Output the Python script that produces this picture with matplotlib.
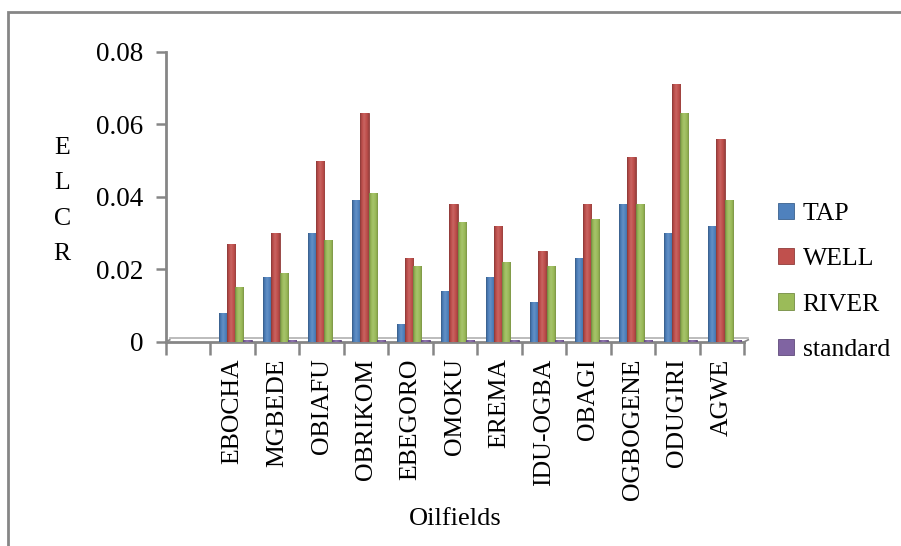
import numpy as np
import matplotlib.pyplot as plt
import matplotlib.transforms as mtransforms
from matplotlib.patches import Rectangle
from matplotlib.colors import to_rgb

plt.rcParams['font.family'] = ['Liberation Serif', 'DejaVu Serif']

# Excess lifetime cancer risk per oilfield and water source
oilfields = ['', 'EBOCHA', 'MGBEDE', 'OBIAFU', 'OBRIKOM', 'EBEGORO', 'OMOKU',
             'EREMA', 'IDU-OGBA', 'OBAGI', 'OGBOGENE', 'ODUGIRI', 'AGWE']
tap = [0.008, 0.018, 0.030, 0.039, 0.005, 0.014, 0.018, 0.011, 0.023, 0.038, 0.030, 0.032]
well = [0.027, 0.030, 0.050, 0.063, 0.023, 0.038, 0.032, 0.025, 0.038, 0.051, 0.071, 0.056]
river = [0.015, 0.019, 0.028, 0.041, 0.021, 0.033, 0.022, 0.021, 0.034, 0.038, 0.063, 0.039]
standard = [0.0004] * 12

series = [('TAP', tap, '#4F81BD'),
          ('WELL', well, '#C0504D'),
          ('RIVER', river, '#9BBB59'),
          ('standard', standard, '#8064A2')]

axis_grey = '#868686'


def shade(c, f):
    r = np.array(to_rgb(c))
    if f < 1:
        return tuple(r * f)
    return tuple(r + (1 - r) * (f - 1))


def cylinder(ax, bars, color):
    # horizontal gradient so the bars read like cylinders
    s = np.linspace(0, 1, 32)
    prof = np.interp(s, [0, 0.15, 0.45, 0.8, 1], [0.7, 0.92, 1.12, 0.97, 0.8])
    img = np.array([[shade(color, p) for p in prof]])
    for b in bars:
        x, y = b.get_x(), b.get_y()
        w, h = b.get_width(), b.get_height()
        im = ax.imshow(img, extent=(x, x + w, y, y + h), aspect='auto',
                       interpolation='bilinear', zorder=3)
        im.set_clip_path(b)


fig = plt.figure(figsize=(9.01, 5.46), dpi=100)
ax = fig.add_axes([0.184, 0.374, 0.642, 0.531])

x = np.arange(1, len(oilfields))
w = 0.185
for k, (name, vals, col) in enumerate(series):
    bars = ax.bar(x - 0.22 + k * w, vals, w, color=col, label=name,
                  edgecolor=shade(col, 0.75), linewidth=0.6, zorder=3)
    cylinder(ax, bars, col)

ax.set_xlim(-0.5, len(oilfields) - 0.5)
ax.set_ylim(0, 0.08)
ax.set_yticks([0, 0.02, 0.04, 0.06, 0.08])
ax.set_yticklabels(['0', '0.02', '0.04', '0.06', '0.08'], fontsize=19.5)
ax.tick_params(axis='y', length=7, width=1.8, color=axis_grey, pad=9)

ax.set_xticks(np.arange(len(oilfields)))
ax.set_xticklabels(oilfields, rotation=90, fontsize=18.5, va='top', ha='center')
ax.set_xticks(np.arange(-0.5, len(oilfields)), minor=True)
ax.tick_params(axis='x', which='major', length=0, pad=12)
ax.tick_params(axis='x', which='minor', length=9, width=1.8, color=axis_grey,
               direction='out')

for sp in ['top', 'right', 'bottom']:
    ax.spines[sp].set_visible(False)
ax.spines['left'].set_color(axis_grey)
ax.spines['left'].set_linewidth(2)

# thin 3-D floor under the bars
back = mtransforms.offset_copy(ax.transData, fig=fig, x=4, y=4, units='dots')
ax.plot([-0.5, 12.5], [0, 0], color=axis_grey, lw=2, zorder=2, clip_on=False)
ax.plot([-0.5, 12.5], [0, 0], color='#B0B0B0', lw=1.2, zorder=1,
        transform=back, clip_on=False)
for xe in (-0.5, 12.5):
    ax.plot([xe, xe + 0.09], [0, 0.00055], color=axis_grey, lw=1.2,
            zorder=2, clip_on=False)

ax.set_xlabel('Oilfields', fontsize=19, labelpad=6)
fig.text(0.069, 0.632, 'E\nL\nC\nR', fontsize=18.5, ha='center', va='center',
         linespacing=1.8)

leg = fig.legend(loc='center left', bbox_to_anchor=(0.838, 0.484),
                 frameon=False, fontsize=18.5, handlelength=0.6,
                 handleheight=0.6, handletextpad=0.35, labelspacing=0.9)

# outer frame of the chart area
fig.patches.append(Rectangle((8 / 901, -0.1), 2, 1.1 - 12 / 546, fill=False,
                             edgecolor=axis_grey, linewidth=2,
                             transform=fig.transFigure))

fig.savefig('out.png', dpi=100)
